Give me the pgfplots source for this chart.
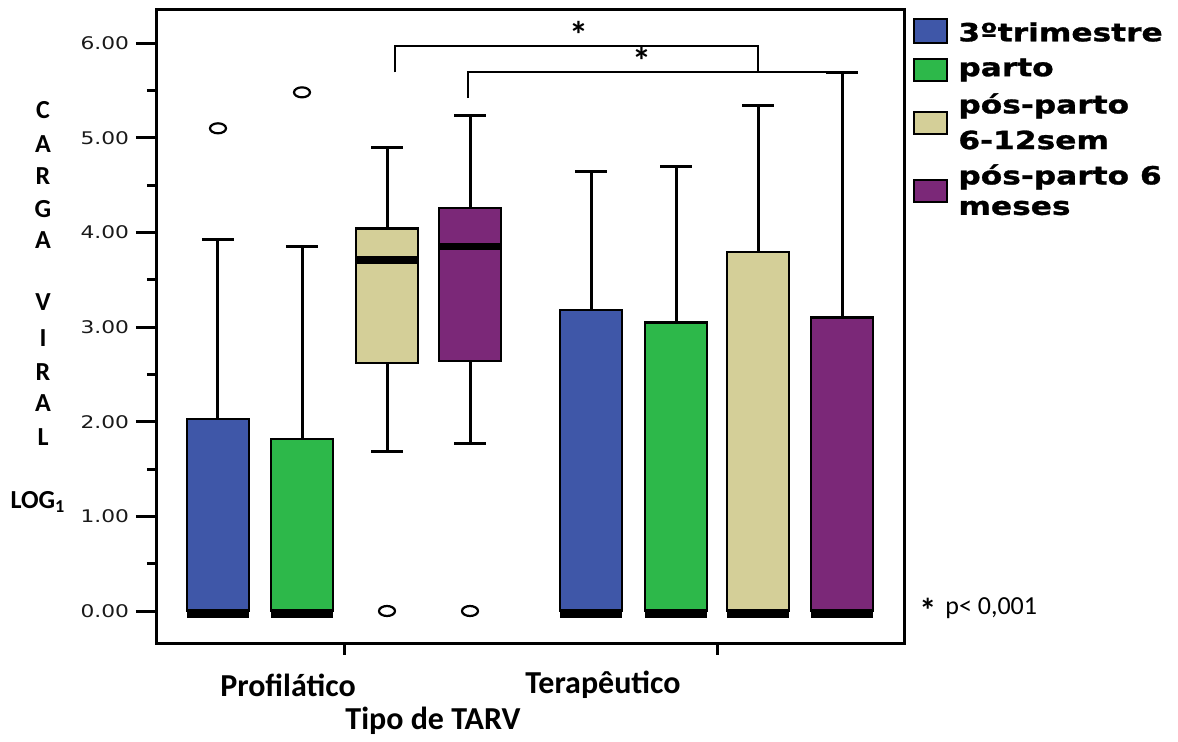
\documentclass[border=0pt]{standalone}
\usepackage{fontspec}
\setmainfont{Carlito}
\newfontfamily\tickfont{DejaVu Sans}[FakeStretch=1.25]
\newfontfamily\legfont{DejaVu Sans}[FakeStretch=1.25, BoldFeatures={FakeBold=1.2}]
\usepackage{pgfplots}
\pgfplotsset{compat=1.18}
\usepgfplotslibrary{statistics}
\definecolor{cblue}{RGB}{63,87,168}
\definecolor{cgreen}{RGB}{45,184,74}
\definecolor{ctan}{RGB}{212,207,152}
\definecolor{cpurple}{RGB}{123,40,120}
\begin{document}
\begin{tikzpicture}
\begin{scope}[x=0.5pt,y=-0.5pt,shift={(-157,-643)}]
\path[use as bounding box] (0,0) rectangle (1178,735);
\end{scope}
\begin{axis}[at={(0,0)}, anchor=south west, scale only axis,
  width=373.5pt, height=316.5pt,
  xmin=157, xmax=904, ymin=-0.338, ymax=6.35,
  xtick=\empty, ytick={0,1,...,6}, minor ytick={0.5,1.5,...,5.5},
  ytick pos=left, tick align=outside,
  major tick length=10.5pt, minor tick length=5pt,
  tick style={black, line width=1.5pt},
  axis line style={line width=1.5pt},
  /pgf/number format/assume math mode=true,
  yticklabel style={font=\tickfont\fontsize{8.7}{10}\selectfont, color=black!90,
    /pgf/number format/fixed, /pgf/number format/fixed zerofill, /pgf/number format/precision=2},
  clip=false,
  boxplot/draw direction=y,
  boxplot/box extend=62, boxplot/whisker extend=32,
  boxplot/every box/.style={draw=black, line width=1.2pt},
  boxplot/every whisker/.style={draw=black, line width=1.5pt},
  boxplot/every median/.style={draw=black, line width=3.8pt},
  mark=o, mark size=2.5pt, mark options={xscale=1.6, draw=black, line width=1.1pt, solid},
]
\addplot[fill=cblue, draw=black, boxplot/every median/.style={draw=black, line width=4.5pt, yshift=-1pt}, boxplot prepared={draw position=218, lower whisker=0, lower quartile=0, median=0, upper quartile=2.03, upper whisker=3.92}] coordinates {(0,5.10)};
\addplot[fill=cgreen, draw=black, boxplot/every median/.style={draw=black, line width=4.5pt, yshift=-1pt}, boxplot prepared={draw position=302, lower whisker=0, lower quartile=0, median=0, upper quartile=1.82, upper whisker=3.85}] coordinates {(0,5.48)};
\addplot[fill=ctan, draw=black, boxplot prepared={draw position=387, lower whisker=1.69, lower quartile=2.62, median=3.71, upper quartile=4.04, upper whisker=4.90}] coordinates {(0,0)};
\addplot[fill=cpurple, draw=black, boxplot prepared={draw position=470, lower whisker=1.77, lower quartile=2.64, median=3.85, upper quartile=4.26, upper whisker=5.24}] coordinates {(0,0)};
\addplot[fill=cblue, draw=black, boxplot/every median/.style={draw=black, line width=4.5pt, yshift=-1pt}, boxplot prepared={draw position=591, lower whisker=0, lower quartile=0, median=0, upper quartile=3.18, upper whisker=4.64}] coordinates {};
\addplot[fill=cgreen, draw=black, boxplot/every median/.style={draw=black, line width=4.5pt, yshift=-1pt}, boxplot prepared={draw position=676, lower whisker=0, lower quartile=0, median=0, upper quartile=3.05, upper whisker=4.70}] coordinates {};
\addplot[fill=ctan, draw=black, boxplot/every median/.style={draw=black, line width=4.5pt, yshift=-1pt}, boxplot prepared={draw position=758, lower whisker=0, lower quartile=0, median=0, upper quartile=3.79, upper whisker=5.34}] coordinates {};
\addplot[fill=cpurple, draw=black, boxplot/every median/.style={draw=black, line width=4.5pt, yshift=-1pt}, boxplot prepared={draw position=842, lower whisker=0, lower quartile=0, median=0, upper quartile=3.10, upper whisker=5.69}] coordinates {};
\draw[line width=1pt] (axis cs:395,5.69) -- (axis cs:395,5.97) -- (axis cs:758,5.97) -- (axis cs:758,5.69);
\draw[line width=1pt] (axis cs:468,5.42) -- (axis cs:468,5.69) -- (axis cs:855,5.69);
\node[font=\bfseries\fontsize{19}{19}\selectfont, yshift=-3pt] at (axis cs:579,6.15) {*};
\node[font=\bfseries\fontsize{19}{19}\selectfont, yshift=-3pt] at (axis cs:642,5.88) {*};
\end{axis}
\begin{scope}[x=0.5pt,y=-0.5pt,shift={(-157,-643)}]
\draw[line width=1.5pt] (344,643) -- (344,655);
\draw[line width=1.5pt] (717,643) -- (717,655);
\begin{scope}[every node/.style={font=\bfseries\fontsize{13}{13}\selectfont}]
\node at (43,110) {C};
\node at (43,144) {A};
\node at (43,176) {R};
\node at (43,209) {G};
\node at (43,240) {A};
\node at (43,302) {V};
\node at (43,338) {I};
\node at (43,372) {R};
\node at (43,403) {A};
\node at (43,437) {L};
\node at (38,502) {LOG\textsubscript{1}};
\end{scope}
\begin{scope}[every node/.style={font=\bfseries\fontsize{16}{16}\selectfont}]
\node at (288,685) {Profilático};
\node at (603,685) {Terapêutico};
\node at (433,721) {Tipo de TARV};
\end{scope}
\begin{scope}[line width=1pt]
\filldraw[fill=cblue, draw=black] (914,19) rectangle (947,43);
\filldraw[fill=cgreen, draw=black] (914,59) rectangle (947,81);
\filldraw[fill=ctan, draw=black] (914,112) rectangle (947,134);
\filldraw[fill=cpurple, draw=black] (914,180) rectangle (947,202);
\end{scope}
\begin{scope}[every node/.style={anchor=west, inner sep=0pt, font=\legfont\bfseries\fontsize{12.5}{12.5}\selectfont}]
\node at (958,32) {3ºtrimestre};
\node at (958,70) {parto};
\node at (958,106) {pós-parto};
\node at (958,140) {6-12sem};
\node at (958,177) {pós-parto 6};
\node at (958,208) {meses};
\end{scope}
\node[anchor=west, inner sep=0pt, font=\bfseries\fontsize{17}{17}\selectfont] at (919,610) {*};
\node[anchor=west, inner sep=0pt, font=\fontsize{13}{13}\selectfont] at (945,608) {p< 0,001};
\end{scope}
\end{tikzpicture}
\end{document}
